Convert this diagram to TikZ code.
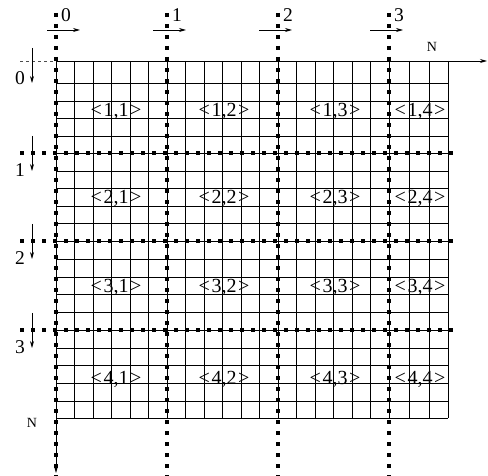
\documentclass[tikz,border=0pt]{standalone}
\usepackage{fontspec}
\setmainfont{Liberation Serif}
\usetikzlibrary{arrows.meta}

\tikzset{
  gridline/.style={black, line width=0.9pt},
  blockline/.style={line width=3.8pt, dash pattern=on 3.8pt off 7.2pt},
  idxarrow/.style={line width=0.7pt, -{Stealth[length=7pt,width=4pt]}},
  axisarrow/.style={line width=0.9pt, -{Stealth[length=7pt,width=4pt]}},
  celltext/.style={font=\fontsize{20}{20}\selectfont, inner sep=0pt, text depth=0pt},
  idxtext/.style={font=\fontsize{19.5}{19.5}\selectfont, inner sep=0pt},
  sizetext/.style={font=\fontsize{14}{14}\selectfont, inner sep=0pt},
}

\begin{document}
\begin{tikzpicture}[x=1pt, y=-1pt]
    \useasboundingbox (0,0) rectangle (488,476);

    % Grid: 21 columns, 20 rows
    \foreach \i in {0,...,18}
        \draw[gridline] (56+18.5*\i,61) -- (56+18.5*\i,418);
    \foreach \x in {409,429,448}
        \draw[gridline] (\x,61) -- (\x,418);
    \foreach \y in {61,83,101,118,136,153,171,188,206,223,241,259,277,294,312,330,348,365,383,401,418}
        \draw[gridline] (56,\y) -- (448,\y);

    % Axes
    \coordinate (org) at (56,61);
    \coordinate (xend) at (487,61);
    \coordinate (ybot) at (56,418);
    \coordinate (yend) at (56,473);
    \coordinate (dstart) at (20,61);
    \draw[axisarrow] (org) -- (xend);
    \draw[axisarrow] (ybot) -- (yend);
    \draw[dashed, black!70, line width=0.6pt] (dstart) -- (org);
    \node[sizetext] (nx) at (432,47) {N};
    \node[sizetext] (ny) at (32,423) {N};

    % Column block boundaries
    \foreach \i/\x/\a in {0/56/47, 1/167/153, 2/278/259, 3/389/370} {
        \draw[blockline] (\x,13) -- (\x,476);
        \node[idxtext, anchor=west] (col\i) at (\x+5,15) {\i};
        \coordinate (ca\i) at (\a,30);
        \coordinate (cb\i) at (\a+33,30);
        \draw[idxarrow] (ca\i) -- (cb\i);
    }

    % Row block boundaries
    \foreach \y in {153,241,330}
        \draw[blockline] (20,\y) -- (457,\y);
    \foreach \i/\y/\a in {0/61/48, 1/153/136, 2/241/224, 3/330/313} {
        \node[idxtext] (row\i) at (20,\y+17) {\i};
        \coordinate (ra\i) at (32,\a);
        \coordinate (rb\i) at (32,\a+35);
        \draw[idxarrow] (ra\i) -- (rb\i);
    }

    % Block labels
    \foreach \r/\y in {1/110, 2/197, 3/286, 4/378}
        \foreach \c/\x in {1/116, 2/224, 3/335, 4/420}
            \node[celltext] (b\r\c) at (\x,\y) {<\kern1.5pt\r,\c\kern1.5pt>};
\end{tikzpicture}
\end{document}
